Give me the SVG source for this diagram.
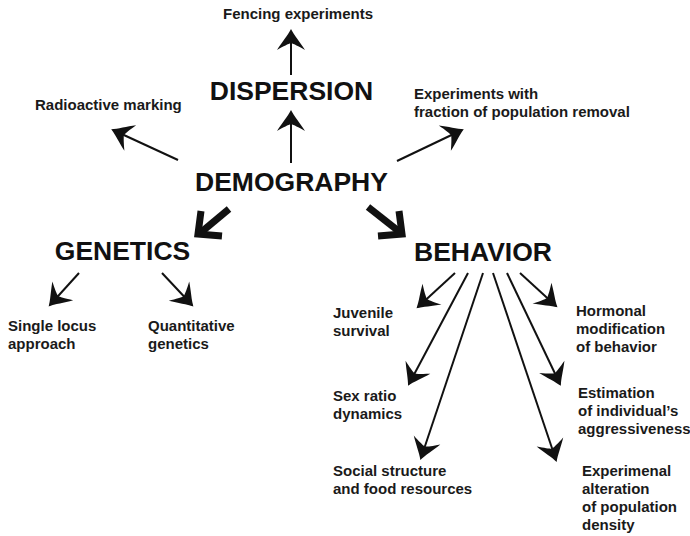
<svg xmlns="http://www.w3.org/2000/svg" width="690" height="536" viewBox="0 0 690 536">
<defs>
<style>
.big{font-family:"Liberation Sans",Arial,sans-serif;font-weight:bold;font-size:26.5px;fill:#111;text-anchor:middle}
.lbl{font-family:"Liberation Sans",Arial,sans-serif;font-weight:bold;font-size:15px;fill:#1a1a1a}
.thin{stroke:#111;stroke-width:2;fill:none;marker-end:url(#head)}
.thick{stroke:#111;stroke-width:7;fill:none;stroke-linejoin:miter}
</style>
<marker id="head" markerUnits="userSpaceOnUse" orient="auto" refX="0" refY="0" markerWidth="44" markerHeight="44" viewBox="-22 -22 44 44" overflow="visible">
<path d="M2,0 C-4,-3 -11,-9 -19,-14 C-15,-7 -13,-3 -12,0 C-13,3 -15,7 -19,14 C-11,9 -4,3 2,0 Z" fill="#111"/>
</marker>
</defs>
<rect width="690" height="536" fill="#fff"/>
<g id="connectors">
<line class="thin" x1="291" y1="163" x2="291" y2="112"/>
<line class="thin" x1="291" y1="75" x2="291" y2="31"/>
<line class="thin" x1="178" y1="160" x2="113" y2="130"/>
<line class="thin" x1="397" y1="161" x2="462" y2="130"/>
<line class="thin" x1="79" y1="273" x2="50" y2="305"/>
<line class="thin" x1="162" y1="273" x2="192" y2="305"/>
<line class="thin" x1="455" y1="273" x2="418" y2="307"/>
<line class="thin" x1="468" y1="273" x2="409" y2="384"/>
<line class="thin" x1="483" y1="273" x2="421" y2="458"/>
<line class="thin" x1="493" y1="273" x2="556" y2="460"/>
<line class="thin" x1="507" y1="273" x2="560" y2="384"/>
<line class="thin" x1="520" y1="273" x2="556" y2="306"/>
<line class="thick" x1="229" y1="209" x2="199" y2="234"/>
<polyline class="thick" points="222,236 198,234 201,211"/>
<line class="thick" x1="368" y1="207" x2="401" y2="233"/>
<polyline class="thick" points="399,211 402,234 378,236"/>
</g>
<g id="demography"><text class="big" x="291.5" y="191">DEMOGRAPHY</text></g>
<g id="dispersion"><text class="big" x="291.5" y="100">DISPERSION</text></g>
<g id="genetics"><text class="big" x="122.5" y="260">GENETICS</text></g>
<g id="behavior"><text class="big" x="483" y="261">BEHAVIOR</text></g>
<g id="fencing"><text class="lbl" x="223" y="19">Fencing experiments</text></g>
<g id="radioactive"><text class="lbl" x="35" y="110">Radioactive marking</text></g>
<g id="removal"><text class="lbl" x="414" y="99">Experiments with</text><text class="lbl" x="414" y="117">fraction of population removal</text></g>
<g id="single-locus"><text class="lbl" x="8" y="331">Single locus</text><text class="lbl" x="8" y="349">approach</text></g>
<g id="quantitative"><text class="lbl" x="148" y="331">Quantitative</text><text class="lbl" x="148" y="349">genetics</text></g>
<g id="juvenile"><text class="lbl" x="333" y="318">Juvenile</text><text class="lbl" x="333" y="336">survival</text></g>
<g id="sex-ratio"><text class="lbl" x="333" y="401">Sex ratio</text><text class="lbl" x="333" y="419">dynamics</text></g>
<g id="social"><text class="lbl" x="333" y="476">Social structure</text><text class="lbl" x="333" y="494">and food resources</text></g>
<g id="hormonal"><text class="lbl" x="576" y="316">Hormonal</text><text class="lbl" x="576" y="334">modification</text><text class="lbl" x="576" y="352">of behavior</text></g>
<g id="estimation"><text class="lbl" x="578" y="398">Estimation</text><text class="lbl" x="578" y="416">of individual’s</text><text class="lbl" x="578" y="434">aggressiveness</text></g>
<g id="experimenal"><text class="lbl" x="582" y="476">Experimenal</text><text class="lbl" x="582" y="494">alteration</text><text class="lbl" x="582" y="512">of population</text><text class="lbl" x="582" y="530">density</text></g>
</svg>
